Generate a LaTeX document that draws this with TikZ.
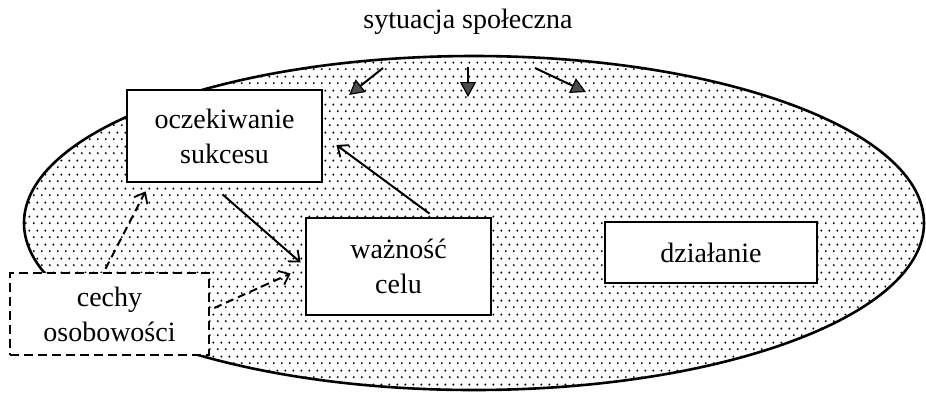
\documentclass[tikz,border=0pt]{standalone}
\usepackage{fontspec}
\setmainfont{Liberation Serif}
\usetikzlibrary{arrows.meta,patterns}
\pgfdeclarepatternformonly{mydots}{\pgfpoint{0pt}{0pt}}{\pgfpoint{8pt}{14pt}}{\pgfpoint{8pt}{14pt}}{%
  \pgfpathcircle{\pgfpoint{2pt}{2pt}}{1.2pt}%
  \pgfpathcircle{\pgfpoint{6pt}{9pt}}{1.2pt}%
  \pgfusepath{fill}}
\tikzset{
  box/.style={draw, line width=2.8pt, fill=white, align=center, inner sep=0pt,
    font=\fontsize{28}{35}\selectfont},
  dbox/.style={box, line width=2.4pt, dash pattern=on 9pt off 5pt},
  conn/.style={line width=2pt, -{Straight Barb[length=9pt,width=15pt,line width=1.8pt]}},
  dconn/.style={conn, dash pattern=on 8pt off 5pt},
  influence/.style={line width=2pt, -{Triangle[length=15pt,width=16pt,fill=gray!60!black,line width=1.2pt]}},
}
\begin{document}
\begin{tikzpicture}[x=1pt,y=-1pt]
\useasboundingbox (0,0) rectangle (926,392);
\node[font=\fontsize{28}{33}\selectfont] (title) at (468,22) {sytuacja społeczna};
\draw[line width=2.6pt, pattern=mydots] (474,223) ellipse [x radius=450pt, y radius=167pt];
\node[box, minimum width=195pt, minimum height=92pt] (ocz) at (224.5,136) {oczekiwanie\\sukcesu};
\node[box, minimum width=185pt, minimum height=97pt] (waz) at (398.5,266.5) {ważność\\celu};
\node[box, minimum width=212pt, minimum height=61pt] (dzi) at (711,252.5) {działanie};
\node[dbox, minimum width=199pt, minimum height=82pt] (cec) at (109.5,314) {cechy\\osobowości};
% top influence arrows
\coordinate (s1) at (383,68); \coordinate (t1) at (349,95);
\coordinate (s2) at (468,67); \coordinate (t2) at (468,97);
\coordinate (s3) at (535,68); \coordinate (t3) at (586,92);
\draw[influence] (s1) -- (t1);
\draw[influence] (s2) -- (t2);
\draw[influence] (s3) -- (t3);
% connectors
\draw[conn] ([shift={(-2,11)}]ocz.south) -- ([shift={(-4,-4)}]waz.west);
\draw[conn] ([shift={(31,-3)}]waz.north) -- ([shift={(13,9)}]ocz.east);
\draw[dconn] ([shift={(-4,-3)}]cec.north) -- ([shift={(-79,8)}]ocz.south);
\draw[dconn] ([shift={(4,-6)}]cec.east) -- ([shift={(-14,7)}]waz.west);
\end{tikzpicture}
\end{document}
